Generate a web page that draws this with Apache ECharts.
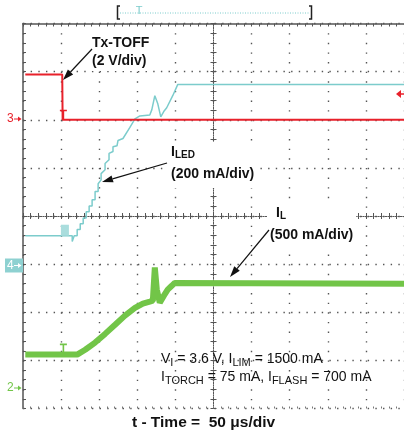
<!DOCTYPE html>
<html>
<head>
<meta charset="utf-8">
<script src="https://cdn.jsdelivr.net/npm/echarts@6/dist/echarts.min.js"></script>
<style>
  html, body { margin: 0; padding: 0; background: #fff; }
  #scope { width: 404px; height: 433px; }
</style>
</head>
<body>
<div id="scope"></div>
<script>
// x = time in us (50 us/div, centre = 0), y = screen divisions (centre = 0)
const timeRange = [-250, 250]
const divRange = [-4, 4]
const trigT = -197

// ch3 Tx-TOFF (2 V/div)
const txToff = [[-247, 2.94], [-198.5, 2.94], [-198, 2.0], [251, 2.0]]
const txLow = 2.0

// ch4 I_LED (200 mA/div)
const iLed = [
  [-247, -0.41], [-185.4, -0.41], [-185.4, -0.53], [-182.8, -0.53], [-182.8, -0.41],
  [-178.9, -0.41], [-178.9, -0.28], [-174.9, -0.28], [-174.9, -0.16], [-171.0, -0.16],
  [-171.0, -0.04], [-167.1, -0.04], [-167.1, 0.09], [-163.2, 0.09], [-163.2, 0.21],
  [-159.3, 0.21], [-159.3, 0.34], [-155.4, 0.34], [-155.4, 0.51], [-151.4, 0.51],
  [-151.4, 0.67], [-147.5, 0.75], [-147.5, 0.88], [-142.3, 0.96], [-142.3, 1.09],
  [-137.1, 1.17], [-137.1, 1.30], [-131.9, 1.34], [-131.9, 1.44], [-126.6, 1.46],
  [-125.3, 1.57], [-118.8, 1.61], [-109.7, 1.84], [-103.1, 2.02], [-96.6, 2.08],
  [-83.6, 2.10], [-80.9, 2.21], [-77.0, 2.50], [-73.1, 2.33], [-69.2, 2.06],
  [-65.3, 2.17], [-61.4, 2.25], [-53.5, 2.50], [-47.0, 2.73], [251, 2.73]
]
const iLedLow = -0.41

// ch2 I_L (500 mA/div)
const iL = [
  [-247, -2.88], [-178.9, -2.88], [-168.4, -2.78], [-155.4, -2.63], [-142.3, -2.45],
  [-129.2, -2.26], [-116.2, -2.07], [-103.1, -1.91], [-92.7, -1.82], [-83.6, -1.78],
  [-79.6, -1.76], [-77.0, -1.07], [-74.4, -1.53], [-70.5, -1.80], [-65.3, -1.66],
  [-60.1, -1.53], [-54.8, -1.45], [-50.9, -1.39], [251, -1.41]
]
const iLLow = -2.88

const FONT = '"Liberation Sans", Arial, Helvetica, sans-serif'
const RED = '#e8212b'
const TEAL = '#7ccccc'
const GREEN = '#72c548'
const INK = '#111'
const GRID = '#555'
const FRAME = '#555'

const tMark = 'path://M0,0H7V1.6H4.3V10H2.7V1.6H0Z'
const ttMark = 'path://M0,0H10V12H0Z'

let chart = echarts.init(document.getElementById('scope'))

function arrow (x1, y1, x2, y2) {
  const len = Math.hypot(x2 - x1, y2 - y1)
  const ux = (x2 - x1) / len
  const uy = (y2 - y1) / len
  const bx = x2 - ux * 11
  const by = y2 - uy * 11
  return [
    { type: 'line', z: 30, shape: { x1: x1, y1: y1, x2: bx, y2: by }, style: { stroke: INK, lineWidth: 1.2 } },
    { type: 'polygon', z: 30, shape: { points: [[x2, y2], [bx - uy * 3.6, by + ux * 3.6], [bx + uy * 3.6, by - ux * 3.6]] }, style: { fill: INK } }
  ]
}

function chanMark (label, y, color, boxed) {
  const ink = boxed ? '#fff' : color
  const els = []
  if (boxed) {
    els.push({ type: 'rect', z: 30, shape: { x: 5, y: y - 7, width: 18, height: 14 }, style: { fill: '#8ed1d1' } })
  }
  els.push({ type: 'text', z: 31, x: 7, y: y, style: { text: label, fill: ink, font: '12px ' + FONT, verticalAlign: 'middle' } })
  els.push({ type: 'line', z: 31, shape: { x1: 14, y1: y, x2: 19, y2: y }, style: { stroke: ink, lineWidth: 1 } })
  els.push({ type: 'polygon', z: 31, shape: { points: [[21.5, y], [18, y - 2.5], [18, y + 2.5]] }, style: { fill: ink } })
  return els
}

const richBold = {
  b: { font: 'bold 14px ' + FONT, lineHeight: 16 },
  s: { font: 'bold 10px ' + FONT, lineHeight: 16, verticalAlign: 'bottom' },
  bi: { font: 'bold 14px ' + FONT, lineHeight: 16, padding: [0, 0, 0, 6] },
  c: { font: 'bold 14px ' + FONT, lineHeight: 28 }
}
const richReg = {
  n: { font: '14px ' + FONT, lineHeight: 18 },
  s: { font: '11px ' + FONT, lineHeight: 18, verticalAlign: 'bottom' }
}

function tickAxis (pos, onZero, showLine, len) {
  return {
    type: 'value',
    min: timeRange[0],
    max: timeRange[1],
    interval: 50,
    position: pos,
    axisLine: { show: showLine, onZero: onZero, onZeroAxisIndex: 0, lineStyle: { color: FRAME, width: onZero ? 1 : 1.5, type: onZero ? [1, 1.5] : 'solid' } },
    axisTick: { show: true, inside: true, length: len, lineStyle: { color: FRAME } },
    minorTick: { show: true, splitNumber: 5, length: len, lineStyle: { color: FRAME } },
    axisLabel: { show: false },
    splitLine: { show: false }
  }
}

function tickAxisY (pos, onZero, showLine, len) {
  return {
    type: 'value',
    min: divRange[0],
    max: divRange[1],
    interval: 1,
    position: pos,
    axisLine: { show: showLine, onZero: onZero, onZeroAxisIndex: 0, lineStyle: { color: FRAME, width: onZero ? 1 : 1.5, type: onZero ? [1, 1.5] : 'solid' } },
    axisTick: { show: true, inside: true, length: len, lineStyle: { color: FRAME } },
    minorTick: { show: true, splitNumber: 5, length: len, lineStyle: { color: FRAME } },
    axisLabel: { show: false },
    splitLine: { show: false }
  }
}

const xMain = {
  type: 'value',
  min: timeRange[0],
  max: timeRange[1],
  interval: 50,
  position: 'bottom',
  axisLine: { show: false, onZero: false },
  axisTick: { show: true, inside: true, length: 2, lineStyle: { color: '#777' } },
  minorTick: { show: true, splitNumber: 5, length: 2, lineStyle: { color: '#777' } },
  axisLabel: { show: false },
  splitLine: { show: true, lineStyle: { color: GRID, width: 1.4, type: [1.4, 8.225] } }
}
const yMain = {
  type: 'value',
  min: divRange[0],
  max: divRange[1],
  interval: 1,
  position: 'left',
  axisLine: { show: true, onZero: false, lineStyle: { color: FRAME, width: 1.5 } },
  axisTick: { show: true, inside: true, length: 3, lineStyle: { color: FRAME } },
  minorTick: { show: true, splitNumber: 5, length: 3, lineStyle: { color: FRAME } },
  axisLabel: { show: false },
  splitLine: { show: true, lineStyle: { color: GRID, width: 1.4, type: [1.4, 6.26] } }
}

let graphics = [
  // record window bracket
  { type: 'polyline', shape: { points: [[120, 6], [117.5, 6], [117.5, 19], [120, 19]] }, style: { stroke: '#222', lineWidth: 1.5, fill: null } },
  { type: 'polyline', shape: { points: [[309, 6], [311.5, 6], [311.5, 19], [309, 19]] }, style: { stroke: '#222', lineWidth: 1.5, fill: null } },
  { type: 'line', shape: { x1: 120, y1: 13, x2: 309, y2: 13 }, style: { stroke: TEAL, lineWidth: 1, lineDash: [1, 1.5] } },
  { type: 'text', x: 139, y: 5.5, style: { text: 'T', fill: TEAL, font: '11px ' + FONT, align: 'center', verticalAlign: 'top' } },
  // trigger level marker, right edge
  { type: 'polygon', z: 30, shape: { points: [[396, 94], [401, 90], [401, 98]] }, style: { fill: RED } },
  { type: 'line', z: 30, shape: { x1: 400, y1: 94, x2: 404, y2: 94 }, style: { stroke: RED, lineWidth: 1.5 } },
  // annotations
  {
    type: 'text', x: 90, y: 33, z: 20,
    style: { text: 'Tx-TOFF\n(2 V/div)', font: 'bold 14px ' + FONT, lineHeight: 18, fill: INK, backgroundColor: '#fff', padding: [1, 2, 1, 2], verticalAlign: 'top' }
  },
  {
    type: 'text', x: 168, y: 142, z: 20,
    style: { text: '{b|I}{s|LED}\n{c|(200 mA/div)}', rich: richBold, fill: INK, backgroundColor: '#fff', padding: [2, 3, 0, 3], verticalAlign: 'top' }
  },
  {
    type: 'text', x: 267, y: 203, z: 20,
    style: { text: '{bi|I}{s|L}\n{c|(500 mA/div)}', rich: richBold, fill: INK, backgroundColor: '#fff', padding: [2, 3, 0, 3], verticalAlign: 'top' }
  },
  {
    type: 'text', x: 161, y: 350.5, z: 20,
    style: { text: '{n|V}{s|I}{n| = 3.6 V, I}{s|LIM}{n| = 1500 mA}\n{n|I}{s|TORCH}{n| = 75 mA, I}{s|FLASH}{n| = 700 mA}', rich: richReg, fill: INK, verticalAlign: 'top' }
  },
  {
    type: 'text', x: 203.5, y: 414.5,
    style: { text: 't - Time =  50 \u03bcs/div', font: 'bold 15.5px ' + FONT, fill: INK, align: 'center', verticalAlign: 'top' }
  }
]
graphics = graphics
  .concat(arrow(92, 49, 63, 80))
  .concat(arrow(167, 163, 102, 182))
  .concat(arrow(269, 230, 230, 277))
  .concat(chanMark('3', 119, RED, false))
  .concat(chanMark('4', 265.5, TEAL, true))
  .concat(chanMark('2', 388, GREEN, false))

chart.setOption({
  animation: false,
  grid: { left: 23, top: 23.5, width: 383, height: 385 },
  xAxis: [
    xMain,
    tickAxis('top', false, true, 3),
    tickAxis('bottom', true, true, 3),
    tickAxis('top', true, true, 3)
  ],
  yAxis: [
    yMain,
    tickAxisY('left', true, true, 3),
    tickAxisY('right', true, true, 3)
  ],
  series: [
    {
      name: 'I_L',
      type: 'line',
      data: iL,
      showSymbol: false,
      z: 3,
      lineStyle: { color: GREEN, width: 6 },
      markPoint: {
        symbol: tMark,
        symbolSize: [7, 10],
        symbolOffset: [0, -6],
        itemStyle: { color: GREEN },
        label: { show: false },
        data: [{ coord: [trigT, iLLow] }]
      }
    },
    {
      name: 'I_LED',
      type: 'line',
      data: iLed,
      showSymbol: false,
      z: 4,
      lineStyle: { color: TEAL, width: 1.5 },
      markPoint: {
        symbol: ttMark,
        symbolSize: [8, 11],
        symbolOffset: [0, -5.5],
        itemStyle: { color: '#aadddd' },
        label: { show: false },
        data: [{ coord: [trigT + 2, iLedLow] }]
      }
    },
    {
      name: 'Tx-TOFF',
      type: 'line',
      data: txToff,
      showSymbol: false,
      z: 5,
      lineStyle: { color: RED, width: 2 },
      markPoint: {
        symbol: tMark,
        symbolSize: [7, 10],
        symbolOffset: [0, -5],
        itemStyle: { color: RED },
        label: { show: false },
        data: [{ coord: [trigT, txLow] }]
      }
    }
  ],
  graphic: graphics
})
</script>
</body>
</html>
